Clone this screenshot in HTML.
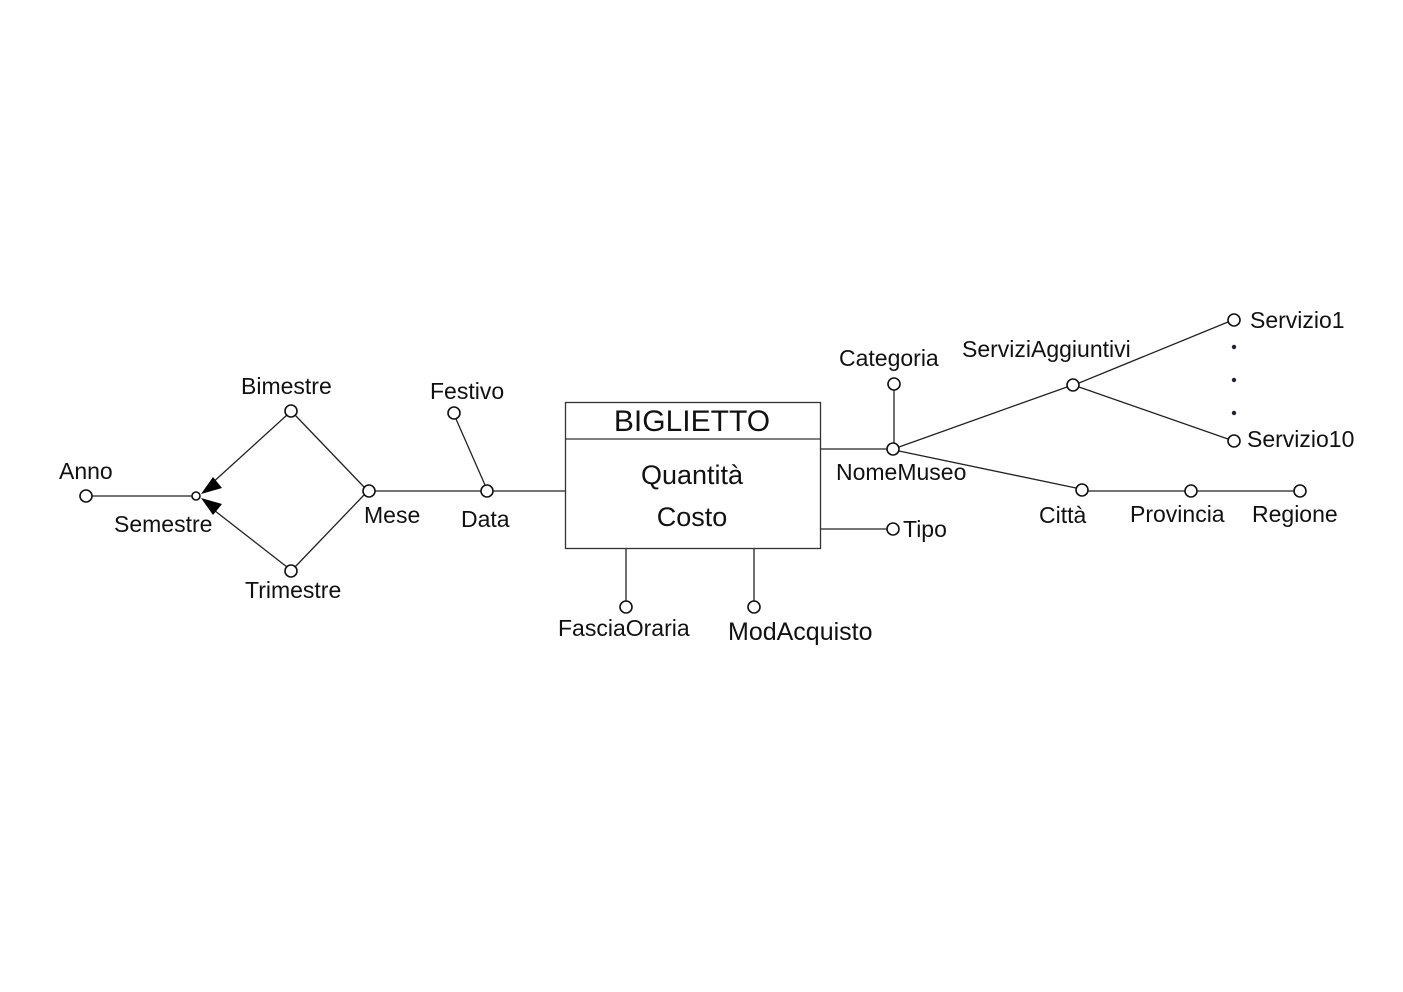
<!DOCTYPE html>
<html><head><meta charset="utf-8"><style>
html,body{margin:0;padding:0;background:#fff;}
svg{display:block;}
text{font-family:"Liberation Sans",sans-serif;font-size:23px;fill:#111;}
</style></head><body>
<svg width="1403" height="992" viewBox="0 0 1403 992" xmlns="http://www.w3.org/2000/svg">
<g stroke="#222" stroke-width="1.3" fill="none">
<line x1="92" y1="496" x2="192" y2="496"/>
<line x1="287" y1="415" x2="210" y2="485"/>
<line x1="287" y1="567" x2="210" y2="507"/>
<line x1="295" y1="415" x2="364" y2="487"/>
<line x1="295" y1="567" x2="364" y2="495"/>
<line x1="375" y1="491" x2="481" y2="491"/>
<line x1="456" y1="419" x2="485" y2="485"/>
<line x1="493" y1="491" x2="565" y2="491"/>
<line x1="820" y1="449" x2="887" y2="449"/>
<line x1="894" y1="390" x2="894" y2="443"/>
<line x1="899" y1="447" x2="1067" y2="387"/>
<line x1="1079" y1="383" x2="1228" y2="322"/>
<line x1="1079" y1="387" x2="1228" y2="439"/>
<line x1="899" y1="451" x2="1076" y2="488"/>
<line x1="1088" y1="491" x2="1185" y2="491"/>
<line x1="1197" y1="491" x2="1294" y2="491"/>
<line x1="820" y1="529" x2="887" y2="529"/>
<line x1="626" y1="548" x2="626" y2="601"/>
<line x1="754" y1="548" x2="754" y2="601"/>
</g>
<g fill="#000">
<polygon points="201,494 213,477 222,488"/>
<polygon points="201,498 213,515 222,504"/>
</g>
<g stroke="#111" stroke-width="1.6" fill="#fff">
<circle cx="86" cy="496" r="6"/>
<circle cx="196" cy="496" r="4"/>
<circle cx="291" cy="411" r="6"/>
<circle cx="291" cy="571" r="6"/>
<circle cx="369" cy="491" r="6"/>
<circle cx="487" cy="491" r="6"/>
<circle cx="454" cy="413" r="6"/>
<circle cx="893" cy="449" r="6"/>
<circle cx="894" cy="384" r="6"/>
<circle cx="1073" cy="385" r="6"/>
<circle cx="1234" cy="320" r="6"/>
<circle cx="1234" cy="441" r="6"/>
<circle cx="1082" cy="490" r="6"/>
<circle cx="1191" cy="491" r="6"/>
<circle cx="1300" cy="491" r="6"/>
<circle cx="893" cy="529" r="6"/>
<circle cx="626" cy="607" r="6"/>
<circle cx="754" cy="607" r="6"/>
</g>
<g fill="#223">
<circle cx="1234" cy="347" r="2.2"/><circle cx="1234" cy="380" r="2.2"/><circle cx="1234" cy="413" r="2.2"/>
</g>
<g>
<rect x="565.5" y="402.5" width="255" height="146" fill="#fff" stroke="#333" stroke-width="1.3"/>
<line x1="565" y1="439" x2="820" y2="439" stroke="#333" stroke-width="1.3"/>
<text x="692" y="431" text-anchor="middle" style="font-size:30px">BIGLIETTO</text>
<text x="692" y="484" text-anchor="middle" style="font-size:27px">Quantità</text>
<text x="692" y="526" text-anchor="middle" style="font-size:27px">Costo</text>
</g>
<g>
<text x="59" y="479">Anno</text>
<text x="114" y="532">Semestre</text>
<text x="241" y="394">Bimestre</text>
<text x="245" y="598">Trimestre</text>
<text x="364" y="523">Mese</text>
<text x="461" y="527">Data</text>
<text x="430" y="399">Festivo</text>
<text x="839" y="366">Categoria</text>
<text x="962" y="357">ServiziAggiuntivi</text>
<text x="1250" y="328">Servizio1</text>
<text x="1247" y="447">Servizio10</text>
<text x="836" y="480">NomeMuseo</text>
<text x="1039" y="523">Città</text>
<text x="1130" y="522">Provincia</text>
<text x="1252" y="522">Regione</text>
<text x="903" y="537">Tipo</text>
<text x="558" y="636">FasciaOraria</text>
<text x="728" y="640" style="font-size:25px">ModAcquisto</text>
</g>
</svg>
</body></html>
